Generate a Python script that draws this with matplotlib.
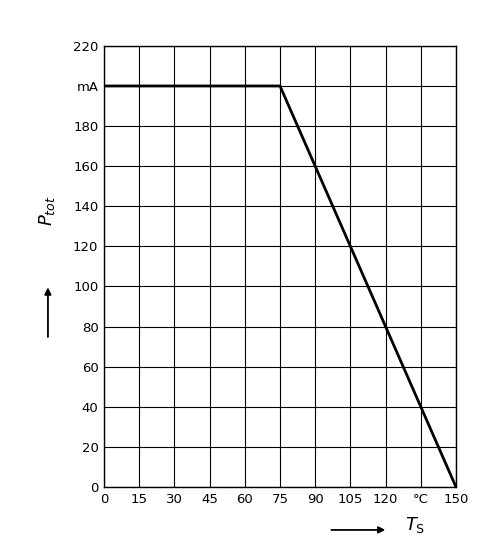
import matplotlib
matplotlib.use("Agg")
import matplotlib.pyplot as plt

# derating curve
ts_points = [0, 75, 150]
ptot_points = [200, 200, 0]

x_ticks = [0, 15, 30, 45, 60, 75, 90, 105, 120, 135, 150]
x_labels = ["0", "15", "30", "45", "60", "75", "90", "105", "120", "°C", "150"]
y_ticks = list(range(0, 221, 20))
y_labels = [str(v) for v in y_ticks]
y_labels[10] = "mA"

fig = plt.figure(figsize=(4.94, 5.48), dpi=100)
ax = fig.add_axes([0.2105, 0.1113, 0.7126, 0.805])

ax.plot(ts_points, ptot_points, color="black", lw=2)
ax.set_xlim(0, 150)
ax.set_ylim(0, 220)
ax.set_xticks(x_ticks)
ax.set_xticklabels(x_labels)
ax.set_yticks(y_ticks)
ax.set_yticklabels(y_labels)
ax.tick_params(length=0, labelsize=9.5, pad=4)
ax.grid(True, color="black", lw=0.8)
for s in ax.spines.values():
    s.set_linewidth(1)

# axis labels with arrows
fig.text(0.095, 0.615, r"$P_{tot}$", rotation=90, fontsize=13, ha="center", va="center")
fig.add_artist(plt.annotate("", xy=(0.097, 0.48), xytext=(0.097, 0.38),
                            xycoords="figure fraction",
                            arrowprops=dict(arrowstyle="-|>", color="black", lw=1)))
fig.text(0.84, 0.042, r"$T_{\rm S}$", fontsize=13, ha="center", va="center")
fig.add_artist(plt.annotate("", xy=(0.785, 0.033), xytext=(0.665, 0.033),
                            xycoords="figure fraction",
                            arrowprops=dict(arrowstyle="-|>", color="black", lw=1)))

fig.savefig("out.png", dpi=100)
